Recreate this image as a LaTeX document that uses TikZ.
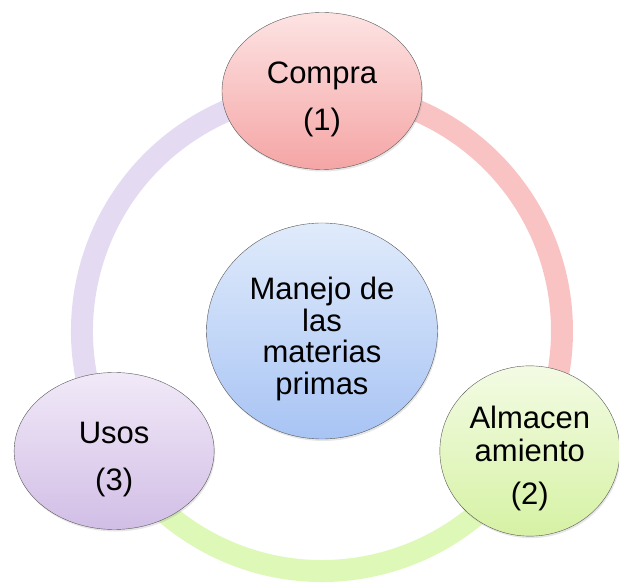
\documentclass[tikz,border=0pt]{standalone}
\usepackage{fontspec}
\setmainfont{Liberation Sans}
\usepackage{tikz}
\usetikzlibrary{shapes.geometric}
\usetikzlibrary{shadows}
\definecolor{compraTop}{HTML}{FDE3E3}
\definecolor{compraBot}{HTML}{F5A5A5}
\definecolor{almacenTop}{HTML}{F3FBE4}
\definecolor{almacenBot}{HTML}{D6F2A4}
\definecolor{usosTop}{HTML}{F1E9F8}
\definecolor{usosBot}{HTML}{D2BEE6}
\definecolor{manejoTop}{HTML}{E0EBFB}
\definecolor{manejoBot}{HTML}{A8C4F4}
\definecolor{ringPink}{HTML}{FAC3C3}
\definecolor{ringGreen}{HTML}{DEF8B8}
\definecolor{ringLilac}{HTML}{E4DAF1}
% pushes the text block a little down in its ellipse
\newcommand{\topgap}{\rule{0pt}{38pt}}
\tikzset{
	stage/.style={draw=black!65, thin, ellipse, inner sep=0pt, minimum width=200pt, minimum height=157pt, align=center, font=\fontsize{31}{33}\selectfont, drop shadow={opacity=0.2, shadow xshift=1pt, shadow yshift=-2pt}},
	hub/.style={draw=black!65, thin, ellipse, inner sep=0pt, minimum width=231pt, minimum height=216pt, align=center, font=\fontsize{31}{31.5}\selectfont, top color=manejoTop, bottom color=manejoBot, drop shadow={opacity=0.2, shadow xshift=1pt, shadow yshift=-2pt}},
	% ring segments between the stages
	ring/.style={line width=22pt, line cap=butt},
}

\begin{document}
\begin{tikzpicture}[x=1pt, y=1pt]
			\useasboundingbox (-322,-252) rectangle (297,331);
			\coordinate (o) at (0,0);
			\coordinate (p1) at (90:240);
			\coordinate (p2) at (-30:240);
			\coordinate (p3) at (210:240);
			
			\begin{scope}[ring]
				\draw[ringPink] (p1) arc[start angle=90, end angle=-30, radius=240pt];
				\draw[ringGreen] (p2) arc[start angle=-30, end angle=-150, radius=240pt];
				\draw[ringLilac] (p3) arc[start angle=210, end angle=90, radius=240pt];
			\end{scope}
			
			\node (manejo) [hub] at (o) {\topgap Manejo de\\las\\materias\\primas};
			\node (compra) [stage, top color=compraTop, bottom color=compraBot] at (p1) {\topgap Compra\\[14pt](1)};
			\node (almacen) [stage, minimum width=180pt, top color=almacenTop, bottom color=almacenBot] at (p2) {\topgap Almacen\\amiento\\[10pt](2)};
			\node (usos) [stage, top color=usosTop, bottom color=usosBot] at (p3) {\topgap Usos\\[14pt](3)};
\end{tikzpicture}
\end{document}
